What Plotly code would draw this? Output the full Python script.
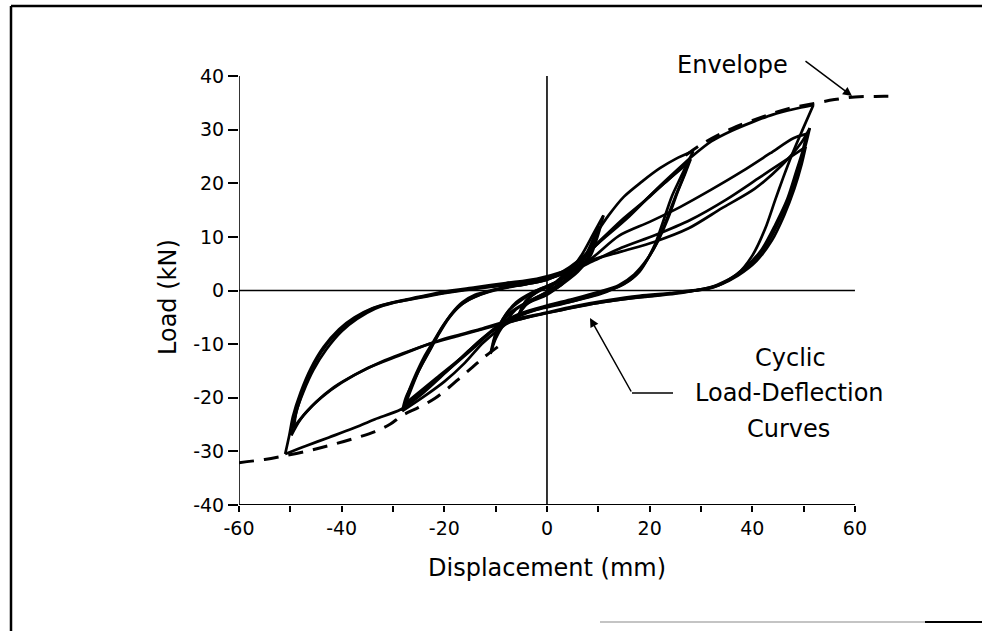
import plotly.graph_objects as go

# ---- cyclic load-deflection record (displacement mm, load kN) ----
# +/-5 mm cycles
loop5_x = [0, 2, 4, 5.5, 4.5, 3, 1, -1, -3, -4.5, -5.5, -4.5, -3, -1, 1, 3, 5,
           4, 2, 0, -2, -4, -5.2, -4.2, -2, 0, 2.5, 5]
loop5_y = [0, 1.8, 3.6, 5, 3, 1.2, 0, -0.8, -1.8, -3, -4.5, -2.5, -1, 0.2, 1, 2.2, 4.5,
           2.4, 0.6, -0.6, -1.4, -2.6, -4, -2, -0.3, 0.6, 1.8, 4.2]

# +/-10 mm cycles
loop10_x = [5, 7, 9, 11, 10, 8.5, 6, 3, 0, -3, -6, -8.5, -10, -11,
            -10, -8, -6, -3, 0, 3, 6, 8, 10,
            9.2, 7.5, 5, 2, -1, -4, -7, -9, -10.5,
            -9.5, -7.5, -5, -2, 1, 4, 7, 9.5]
loop10_y = [4.2, 7, 10.5, 14, 10.5, 6.5, 3.5, 1.2, -0.8, -2, -3.5, -6.5, -9, -11.8,
            -8, -4.5, -2.2, -0.4, 0.8, 2.2, 4.5, 7.5, 12,
            9, 5.5, 3, 1, -0.8, -2.2, -4, -6.5, -10,
            -7, -3.8, -1.8, 0, 1.2, 2.8, 5.5, 10.5]

# +/-28 mm cycles
loop28_x = [9.5, 12, 15, 18.5, 22, 25, 28.5,
            27.5, 26, 24.3, 22.5, 21, 19, 16.5, 13.2, 10, 5, 0, -5, -9, -12.5, -16, -20, -24, -28.2,
            -27.5, -26, -24.5, -22.5, -20.5, -18.5, -16.5, -14, -11, -7, -3, 0, 3, 6, 10, 15, 20, 24, 28,
            27, 25.5, 23.8, 22, 20, 18, 15, 12, 8, 3, -2, -6, -10, -14, -18, -22, -27.8,
            -27, -25.5, -24, -22, -20, -17.5, -15, -12, -8, -4, 0, 4, 7, 11, 16, 21, 27.5,
            26.5, 25, 23.2, 21.5, 19.5, 17, 14, 10, 5, 0, -5, -9, -13, -17, -21.5, -27.5,
            -26.5, -25, -23, -21, -19, -16.5, -13, -9, -4, 0, 5, 10, 16, 22, 28]
loop28_y = [10.5, 14, 17.5, 20.3, 22.8, 24.5, 26,
            24, 21, 17.5, 12.5, 8.5, 5, 2.2, 0.4, -0.8, -2, -3, -4.5, -7, -9.8, -13.5, -17, -19.8, -22.5,
            -20, -17, -14, -10.5, -7, -4.2, -2.2, -0.8, 0, 0.8, 1.5, 2.2, 3.5, 5.5, 9, 13.5, 17.5, 21, 24.5,
            22, 18.5, 14, 10, 6.5, 3.5, 1.2, 0, -1.2, -2.5, -3.6, -5, -7, -10.5, -13.8, -17, -21.5,
            -19, -15.5, -12.5, -9.3, -6.2, -3.3, -1.6, -0.4, 0.6, 1.2, 2, 3.8, 6, 9.8, 14, 18.5, 23.8,
            21, 17.5, 13, 9, 5.8, 3, 1, -0.3, -1.6, -2.8, -4.2, -6.2, -9.3, -12.8, -16.3, -21,
            -18.5, -15, -11.5, -8, -5, -2.5, -0.8, 0.3, 1.2, 2, 4.5, 8.8, 13.8, 19.5, 24.8]

# +/-50 mm cycles
loop50_x = [28, 32, 36, 40, 44, 48, 51.9,
            49.8, 47.8, 46, 44.5, 42.5, 40, 37, 33, 30, 25, 18, 10, 3, -3, -8, -12, -15, -20, -25,
            -28.5, -33.5, -38, -42.5, -47, -51,
            -50.2, -49.5, -48, -46, -43.5, -40.5, -37.5, -34, -30, -25, -20, -14, -8, -2, 3, 8,
            14.6, 21, 27.6, 34, 40.5, 45.7, 49.5, 51.2,
            50.5, 49.3, 47.5, 45.5, 42.8, 39.5, 36, 32.5, 29, 24, 18, 12, 5, -1, -7, -13, -20, -26,
            -32, -37, -41.5, -45, -48, -49.8,
            -49.2, -48, -46.2, -44, -41, -38, -34.5, -31, -26, -20, -14, -8, -2, 3, 8, 14, 20, 26,
            32, 38, 43.5, 48, 50.6,
            49.8, 48.5, 46.8, 44.5, 41.8, 38.5, 35, 31.5, 28, 22, 15, 8, 1, -5, -11, -17, -23, -29,
            -35, -40, -44, -47, -49.3,
            -48.8, -47.5, -45.5, -43, -40, -37, -33.5, -30, -25, -20, -14, -8, -2, 4, 9, 14.6, 21,
            28, 35, 41, 46, 50.4,
            49.6, 48.2, 46.2, 43.8, 40.8, 37.2, 33.5, 30, 26]
loop50_y = [24.8, 27.8, 29.8, 31.4, 32.8, 33.8, 34.6,
            30, 25.5, 21, 17, 11.5, 6.5, 3, 1, 0.2, -0.6, -1.3, -2.3, -3.6, -4.8, -6.2, -8.5, -11, -15.5, -19.8,
            -22.2, -24, -25.8, -27.4, -29, -30.5,
            -27, -23.5, -19, -14.5, -10.5, -7.2, -5, -3.3, -2.2, -1.2, -0.2, 0.6, 1.4, 2.2, 3.5, 5.5,
            7.3, 9.1, 11.6, 15.3, 19, 23.3, 27.5, 30.3,
            27.5, 23.5, 18, 13.5, 8.5, 4.8, 2.2, 0.6, 0, -0.5, -1, -1.8, -3, -4.3, -5.5, -7.2, -9, -11,
            -13.2, -15.5, -18, -20.8, -24, -27,
            -24, -20, -15.5, -11.5, -8, -5.6, -3.6, -2.5, -1.5, -0.4, 0.4, 1.1, 2, 3.2, 5.5, 10.2, 12.8, 15.6,
            18.8, 22.2, 25.6, 28.4, 29.2,
            26, 22, 17, 12.3, 7.6, 4.2, 1.8, 0.4, -0.1, -0.8, -1.6, -2.6, -4, -5.3, -6.8, -8.4, -10, -12.2,
            -14.5, -17.2, -20, -22.8, -25.5,
            -22.5, -19, -14.8, -11, -7.6, -5.3, -3.4, -2.3, -1.4, -0.5, 0.3, 1, 1.8, 3.3, 5.5, 8, 10.3,
            13.2, 17, 20.8, 24, 26.8,
            23.5, 19, 14, 9.3, 5.5, 2.8, 1, 0.2, -0.2]

# ---- backbone (envelope) curves ----
env_neg_x = [-60, -55, -51, -46.5, -42.4, -38, -33.5, -30.5, -28.2, -25, -21.8, -19, -16.5, -14.5, -12.6, -9.3]
env_neg_y = [-32.1, -31.5, -30.8, -29.9, -28.9, -27.7, -26.3, -24.9, -23.3, -21.8, -20.1, -18, -15.9, -14.3, -12.7, -10.3]
env_pos_x = [27, 30.7, 36, 42.4, 47, 52.1, 56, 60, 64, 68]
env_pos_y = [25.2, 27.6, 30.2, 32.5, 33.9, 34.9, 35.6, 36.1, 36.2, 36.2]

# ---- axes ----
x_ticks = [-60, -40, -20, 0, 20, 40, 60]
x_minor = [-50, -30, -10, 10, 30, 50]
y_ticks = [-40, -30, -20, -10, 0, 10, 20, 30, 40]


def split_branches(xs, ys):
    """Break a load path at every reversal of displacement, joined with gaps."""
    bx, by = [xs[0]], [ys[0]]
    prev = None
    for i in range(1, len(xs)):
        step = 1 if xs[i] > xs[i - 1] else -1
        if prev is not None and step != prev:
            bx += [None, xs[i - 1]]
            by += [None, ys[i - 1]]
        bx.append(xs[i])
        by.append(ys[i])
        prev = step
    return bx, by


fig = go.Figure()

for lx, ly in [(loop5_x, loop5_y), (loop10_x, loop10_y),
               (loop28_x, loop28_y), (loop50_x, loop50_y)]:
    bx, by = split_branches(lx, ly)
    fig.add_trace(go.Scatter(
        x=bx, y=by, mode="lines", connectgaps=False,
        line=dict(color="black", width=2.7, shape="spline", smoothing=0.8),
        hoverinfo="skip", showlegend=False))

for ex, ey in [(env_neg_x, env_neg_y), (env_pos_x, env_pos_y)]:
    fig.add_trace(go.Scatter(
        x=ex, y=ey, mode="lines",
        line=dict(color="black", width=3, dash="15px,10px", shape="spline"),
        hoverinfo="skip", showlegend=False))

# plot-area geometry in pixels
L, T, W, H = 239, 76, 656, 429
FIG_W, FIG_H = 982, 631


def pxx(px):
    return (px - L) / W


def pxy(py):
    return (T + H - py) / H


ax_line = dict(color="black", width=1.6)
shapes = [
    # axis frame and zero lines
    dict(type="line", xref="x", yref="y", x0=-60, x1=-60, y0=-40, y1=40, line=ax_line),
    dict(type="line", xref="x", yref="y", x0=-60, x1=60, y0=-40, y1=-40,
         line=dict(color="black", width=2)),
    dict(type="line", xref="x", yref="y", x0=-60, x1=60, y0=0, y1=0, line=ax_line),
    dict(type="line", xref="x", yref="y", x0=0, x1=0, y0=-40, y1=40, line=ax_line),
    # outer figure border
    dict(type="line", xref="paper", yref="paper", x0=pxx(11), x1=pxx(982),
         y0=pxy(6), y1=pxy(6), line=dict(color="black", width=2.5)),
    dict(type="line", xref="paper", yref="paper", x0=pxx(11), x1=pxx(11),
         y0=pxy(6), y1=pxy(631), line=dict(color="black", width=2.5)),
    dict(type="line", xref="paper", yref="paper", x0=pxx(600), x1=pxx(925),
         y0=pxy(622), y1=pxy(622), line=dict(color="#b0b0b0", width=1.5)),
    dict(type="line", xref="paper", yref="paper", x0=pxx(925), x1=pxx(982),
         y0=pxy(622), y1=pxy(622), line=dict(color="black", width=2)),
    # leader for the cyclic-curve label
    dict(type="line", xref="paper", yref="paper", x0=pxx(632), x1=pxx(673),
         y0=pxy(393), y1=pxy(393), line=dict(color="black", width=1.5)),
]

txt_font = dict(family="DejaVu Sans", size=24, color="black")
annotations = [
    dict(text="Envelope", xref="paper", yref="paper", x=pxx(732), y=pxy(65),
         xanchor="center", yanchor="middle", showarrow=False, font=txt_font),
    dict(text="Cyclic", xref="paper", yref="paper", x=pxx(790), y=pxy(358),
         xanchor="center", yanchor="middle", showarrow=False, font=txt_font),
    dict(text="Load-Deflection", xref="paper", yref="paper", x=pxx(789), y=pxy(393),
         xanchor="center", yanchor="middle", showarrow=False, font=txt_font),
    dict(text="Curves", xref="paper", yref="paper", x=pxx(788), y=pxy(429),
         xanchor="center", yanchor="middle", showarrow=False, font=txt_font),
    dict(text="Displacement (mm)", xref="paper", yref="paper", x=pxx(547), y=pxy(568),
         xanchor="center", yanchor="middle", showarrow=False, font=txt_font),
    dict(text="Load (kN)", xref="paper", yref="paper", x=pxx(168), y=pxy(297),
         xanchor="center", yanchor="middle", showarrow=False, font=txt_font, textangle=-90),
    # arrows
    dict(text="", xref="paper", yref="paper", x=pxx(852), y=pxy(96), ax=-48, ay=-36,
         showarrow=True, arrowhead=2, arrowsize=1.2, arrowwidth=1.5, arrowcolor="black"),
    dict(text="", xref="paper", yref="paper", x=pxx(590), y=pxy(318), ax=42, ay=75,
         showarrow=True, arrowhead=2, arrowsize=1.2, arrowwidth=1.5, arrowcolor="black"),
]

tick_font = dict(family="DejaVu Sans", size=19, color="black")
fig.update_layout(
    width=FIG_W, height=FIG_H,
    margin=dict(l=L, r=FIG_W - L - W, t=T, b=FIG_H - T - H, pad=0),
    paper_bgcolor="white", plot_bgcolor="white",
    showlegend=False,
    shapes=shapes,
    annotations=annotations,
    xaxis=dict(range=[-60, 67.8], showgrid=False, zeroline=False, showline=False,
               tickmode="array", tickvals=x_ticks, ticktext=[str(v) for v in x_ticks],
               ticks="outside", ticklen=6, tickwidth=1.5, tickcolor="black",
               tickfont=tick_font,
               minor=dict(tickmode="array", tickvals=x_minor, ticks="outside",
                          ticklen=6, tickwidth=1.5, tickcolor="black")),
    yaxis=dict(range=[-40, 40], showgrid=False, zeroline=False, showline=False,
               tickmode="array", tickvals=y_ticks, ticktext=[str(v) for v in y_ticks],
               ticks="outside", ticklen=10, tickwidth=1.5, tickcolor="black",
               tickfont=tick_font),
)

fig.write_html("out.html", config={"displayModeBar": False})
